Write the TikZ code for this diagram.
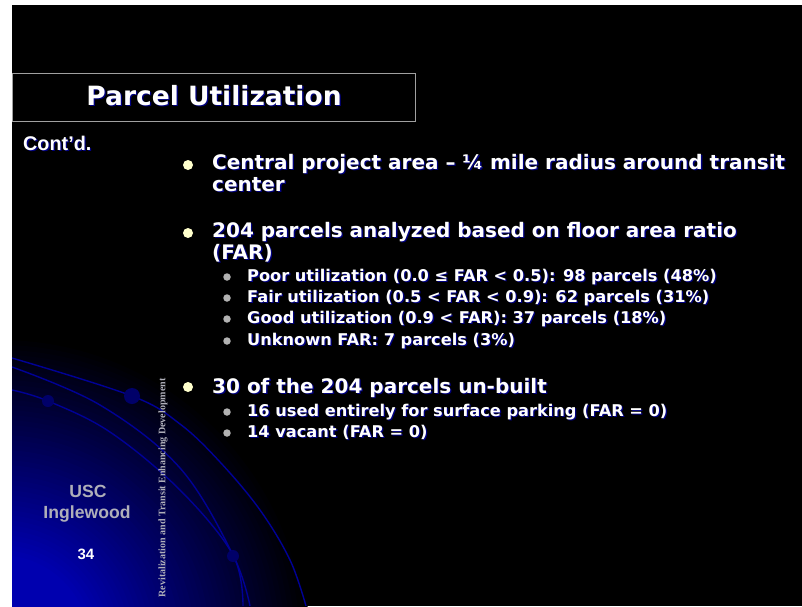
\documentclass[tikz,border=0pt]{standalone}
\usepackage{fontspec}
\newfontfamily\tahomafont{DejaVu Sans}
\newfontfamily\arialfont{Liberation Sans}
\newfontfamily\serffont{Liberation Serif}
\definecolor{slideblue}{RGB}{0,0,175}
\definecolor{curveblue}{RGB}{0,0,150}
\definecolor{dotblue}{RGB}{0,0,105}
\definecolor{shadowc}{RGB}{0,0,128}
\definecolor{bulyellow}{RGB}{255,255,204}
\definecolor{bulgray}{RGB}{178,178,178}
\definecolor{labgray}{RGB}{175,175,185}
\definecolor{boxgray}{RGB}{160,160,160}
\newcommand\shtxt[4]{%
  \node[#2,text=shadowc] at ([shift={(1.3,1.3)}]#3) {#4};
  \node[#2] (#1) at (#3) {#4};}
\begin{document}
\begin{tikzpicture}[x=1pt,y=-1pt,
  txt/.style={text=white,inner sep=0pt,anchor=base west},
  lvlone/.style={txt,font=\tahomafont\bfseries\fontsize{20}{23}\selectfont},
  lvltwo/.style={txt,font=\tahomafont\bfseries\fontsize{16.2}{18}\selectfont},
  titletxt/.style={txt,anchor=base,font=\tahomafont\bfseries\fontsize{26.5}{30}\selectfont},
  conttxt/.style={txt,font=\arialfont\bfseries\fontsize{19.8}{22}\selectfont},
  sidetxt/.style={txt,anchor=base,text=labgray,font=\arialfont\bfseries\fontsize{17.6}{20}\selectfont},
  bulone/.style={fill=bulyellow,circle,inner sep=0pt,minimum size=10pt},
  bultwo/.style={fill=bulgray,circle,inner sep=0pt,minimum size=7.5pt},
  curve/.style={draw=curveblue,line width=1.4pt},
  dot/.style={fill=dotblue}]
\useasboundingbox (0,0) rectangle (802,606);
\fill[white] (0,0) rectangle (802,606);
\fill[black] (12,5) rectangle (802,606);
% blue glow bottom-left
\begin{scope}
\clip (12,5) rectangle (802,606);
\foreach \k in {0,...,48}{
  \pgfmathsetmacro\rr{310-5*\k}
  \pgfmathsetmacro\pc{min(100,\k*100/44)}
  \fill[slideblue!\pc!black] (0,645) circle (\rr pt);
}
\draw[curve] plot[smooth,tension=0.6] coordinates {(12,358) (132,396) (180,424) (220,462) (260,510) (290,560) (306,606)};
\draw[curve] plot[smooth,tension=0.6] coordinates {(12,367) (100,405) (180,468) (233,555) (250,606)};
\draw[curve] plot[smooth,tension=0.6] coordinates {(12,390) (48,401) (110,432) (180,490) (233,555) (243,606)};
\fill[dot] (132,396) circle (8pt);
\fill[dot] (48,401) circle (6pt);
\fill[dot] (233,556) circle (6pt);
\end{scope}
% title box
\node[draw=boxgray,line width=0.8pt,fill=black,minimum width=403pt,minimum height=48pt,inner sep=0pt,anchor=north west] (tbox) at (12,73) {};
\shtxt{title}{titletxt}{214,105}{Parcel Utilization}
\shtxt{contd}{conttxt}{23,150}{Cont’d.}
% level one bullets
\node[bulone] (b1) at (188,165) {};
\shtxt{l1a}{lvlone}{212,169}{Central project area – ¼ mile radius around transit}
\shtxt{l1b}{lvlone}{212,191}{center}
\node[bulone] (b2) at (188,233) {};
\shtxt{l2a}{lvlone}{212,237}{204 parcels analyzed based on floor area ratio}
\shtxt{l2b}{lvlone}{212,259}{(FAR)}
\node[bultwo] (s1) at (227,277) {};
\shtxt{t1}{lvltwo}{247,281}{Poor utilization (0.0 ≤ FAR < 0.5): 98 parcels (48\%)}
\node[bultwo] (s2) at (227,298) {};
\shtxt{t2}{lvltwo}{247,302}{Fair utilization (0.5 < FAR < 0.9): 62 parcels (31\%)}
\node[bultwo] (s3) at (227,319) {};
\shtxt{t3}{lvltwo}{247,323}{Good utilization (0.9 < FAR): 37 parcels (18\%)}
\node[bultwo] (s4) at (227,341) {};
\shtxt{t4}{lvltwo}{247,345}{Unknown FAR: 7 parcels (3\%)}
\node[bulone] (b3) at (188,387) {};
\shtxt{l3a}{lvlone}{212,393}{30 of the 204 parcels un-built}
\node[bultwo] (s5) at (227,412) {};
\shtxt{t5}{lvltwo}{247,416}{16 used entirely for surface parking (FAR = 0)}
\node[bultwo] (s6) at (227,433) {};
\shtxt{t6}{lvltwo}{247,437}{14 vacant (FAR = 0)}
% side labels
\node[sidetxt] (usc) at (88,497) {USC};
\node[sidetxt] (ingl) at (87,518) {Inglewood};
\node[sidetxt,text=white,font=\arialfont\bfseries\fontsize{15}{17}\selectfont] (num) at (86,559) {34};
\node[rotate=90,text=labgray,inner sep=0pt,font=\serffont\bfseries\fontsize{10}{12}\selectfont] (vert) at (163,488) {Revitalization and Transit Enhancing Development};
\end{tikzpicture}
\end{document}
